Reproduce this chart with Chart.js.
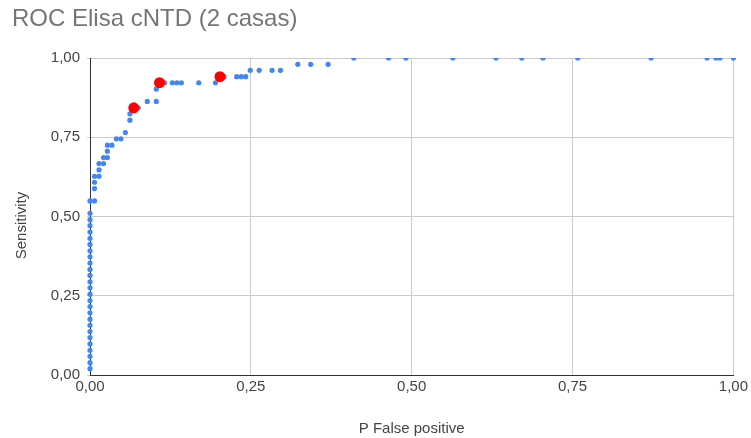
<!DOCTYPE html>
<html>
<head>
<meta charset="utf-8">
<title>ROC Elisa cNTD (2 casas)</title>
<script src="https://cdn.jsdelivr.net/npm/chart.js@4/dist/chart.umd.min.js"></script>
<style>
  html, body { margin: 0; padding: 0; background: #ffffff; }
  #wrap { width: 751px; height: 438px; }
</style>
</head>
<body>
<div id="wrap"><canvas id="roc" width="751" height="438"></canvas></div>
<script>
// ROC curve points: false positive rate (x) and sensitivity (y)
const rocFpr = [
  0, 0, 0, 0, 0, 0, 0, 0, 0, 0,
  0, 0, 0, 0, 0, 0, 0, 0, 0, 0,
  0, 0, 0, 0, 0, 0, 0,
  0.007, 0.007, 0.007, 0.007,
  0.014, 0.014, 0.014,
  0.021, 0.021,
  0.027, 0.027, 0.027,
  0.034, 0.041, 0.048, 0.055,
  0.062, 0.062, 0.068, 0.075,
  0.089, 0.103, 0.103,
  0.108, 0.116, 0.128, 0.135, 0.142, 0.169, 0.195,
  0.208, 0.228, 0.235, 0.242,
  0.249, 0.263, 0.283, 0.296,
  0.323, 0.343, 0.370,
  0.410, 0.464, 0.491, 0.564, 0.631, 0.671, 0.704, 0.758, 0.872, 0.959, 0.973, 0.979, 1.000
];
const rocSens = [
  0.020, 0.039, 0.059, 0.078, 0.098, 0.118, 0.137, 0.157, 0.176, 0.196,
  0.216, 0.235, 0.255, 0.275, 0.294, 0.314, 0.333, 0.353, 0.373, 0.392,
  0.412, 0.431, 0.451, 0.471, 0.490, 0.510, 0.549,
  0.549, 0.588, 0.608, 0.627,
  0.627, 0.647, 0.667,
  0.667, 0.686,
  0.686, 0.706, 0.725,
  0.725, 0.745, 0.745, 0.765,
  0.804, 0.824, 0.843, 0.843,
  0.863, 0.863, 0.902,
  0.922, 0.922, 0.922, 0.922, 0.922, 0.922, 0.922,
  0.941, 0.941, 0.941, 0.941,
  0.961, 0.961, 0.961, 0.961,
  0.980, 0.980, 0.980,
  1.000, 1.000, 1.000, 1.000, 1.000, 1.000, 1.000, 1.000, 1.000, 1.000, 1.000, 1.000, 1.000
];

// Highlighted cut-off points
const cutFpr  = [0.068, 0.108, 0.202];
const cutSens = [0.843, 0.922, 0.941];

// Axis ticks (shared by both axes) and their labels
const axisTicks      = [0, 0.25, 0.5, 0.75, 1];
const axisTickLabels = ['0,00', '0,25', '0,50', '0,75', '1,00'];

const chartTitle = 'ROC Elisa cNTD (2 casas)';
const xTitle = 'P False positive';
const yTitle = 'Sensitivity';

const toPoints = (xs, ys) => xs.map((x, i) => ({ x: x, y: ys[i] }));

const FONT = '"Liberation Sans", Arial, sans-serif';
const GRID = '#cccccc';
const AXIS = '#333333';
const LABEL = '#444444';

const fixedTicks = (scale) => {
  scale.ticks = axisTicks.map(v => ({ value: v }));
};
const tickLabel = (value) => {
  const i = axisTicks.indexOf(value);
  return i >= 0 ? axisTickLabels[i] : '';
};

// Vertical axis title, drawn a little below the plot's vertical centre
const yAxisTitle = {
  id: 'yAxisTitle',
  afterDraw(chart) {
    const { ctx, chartArea } = chart;
    ctx.save();
    ctx.translate(22, (chartArea.top + chartArea.bottom) / 2 + 9);
    ctx.rotate(-Math.PI / 2);
    ctx.fillStyle = LABEL;
    ctx.font = '15px ' + FONT;
    ctx.textAlign = 'center';
    ctx.textBaseline = 'middle';
    ctx.fillText(yTitle, 0, 0);
    ctx.restore();
  }
};

new Chart(document.getElementById('roc'), {
  type: 'scatter',
  data: {
    datasets: [
      {
        label: 'Cut-off',
        data: toPoints(cutFpr, cutSens),
        backgroundColor: '#ff0000',
        borderWidth: 0,
        pointRadius: 5.5,
        order: 0,
        clip: false
      },
      {
        label: 'Sensitivity',
        data: toPoints(rocFpr, rocSens),
        backgroundColor: '#4285f4',
        borderWidth: 0,
        pointRadius: 2.6,
        order: 1,
        clip: { left: false, top: 0, right: false, bottom: false }
      }
    ]
  },
  plugins: [yAxisTitle],
  options: {
    responsive: false,
    animation: false,
    events: [],
    layout: { padding: { left: 12, right: 17, top: 0, bottom: 0 } },
    plugins: {
      legend: { display: false },
      tooltip: { enabled: false },
      title: {
        display: true,
        text: chartTitle,
        align: 'start',
        color: '#757575',
        font: { family: FONT, size: 24, weight: 'normal' },
        padding: { top: 4.6, bottom: 24.6 }
      }
    },
    scales: {
      x: {
        type: 'linear',
        min: 0,
        max: 1,
        afterBuildTicks: fixedTicks,
        afterFit: (s) => { s.height = 63; },
        grid: { color: GRID, lineWidth: 1, tickLength: 0 },
        border: { color: AXIS, width: 1 },
        ticks: {
          color: LABEL,
          font: { family: FONT, size: 15 },
          padding: 3,
          maxRotation: 0,
          callback: tickLabel
        },
        title: {
          display: true,
          text: xTitle,
          color: LABEL,
          font: { family: FONT, size: 15 },
          padding: { top: 0, bottom: 0 }
        }
      },
      y: {
        type: 'linear',
        min: 0,
        max: 1,
        afterBuildTicks: fixedTicks,
        afterFit: (s) => { s.width = 78; },
        grid: { color: GRID, lineWidth: 1, tickLength: 3, tickColor: GRID },
        border: { color: AXIS, width: 1 },
        ticks: {
          color: LABEL,
          font: { family: FONT, size: 15 },
          padding: 7,
          callback: tickLabel
        },
        title: { display: false }
      }
    }
  }
});
</script>
</body>
</html>
